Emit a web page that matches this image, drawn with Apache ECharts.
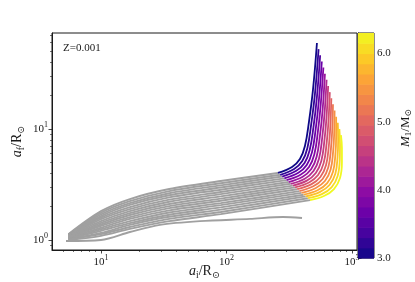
<!DOCTYPE html>
<html><head><meta charset="utf-8">
<script src="https://cdn.jsdelivr.net/npm/echarts@6/dist/echarts.min.js"></script>
<style>html,body{margin:0;padding:0;background:#fff}#c{width:415px;height:282px}</style>
</head><body><div id="c"></div>
<script>
// ---- data ----
const masses = [3.0, 3.22, 3.44, 3.66, 3.88, 4.1, 4.32, 4.54, 4.76, 4.98, 5.2, 5.42, 5.64, 5.86, 6.08, 6.3];
// gray (early) part of each track: shared a_i grid, a_f per track
const grayAi = [5.5, 10, 17, 35, 90];
const grayAf = [
 [1.13, 1.82, 2.34, 2.88, 3.40],
 [1.12, 1.76, 2.24, 2.76, 3.25],
 [1.11, 1.70, 2.15, 2.64, 3.11],
 [1.10, 1.64, 2.07, 2.53, 2.97],
 [1.10, 1.59, 1.98, 2.42, 2.84],
 [1.09, 1.54, 1.90, 2.31, 2.71],
 [1.08, 1.48, 1.82, 2.21, 2.59],
 [1.07, 1.43, 1.75, 2.11, 2.47],
 [1.06, 1.38, 1.68, 2.02, 2.36],
 [1.05, 1.34, 1.61, 1.94, 2.26],
 [1.04, 1.29, 1.55, 1.85, 2.15],
 [1.03, 1.25, 1.48, 1.77, 2.06],
 [1.03, 1.21, 1.42, 1.69, 1.97],
 [1.02, 1.16, 1.37, 1.62, 1.88],
 [1.01, 1.13, 1.31, 1.55, 1.79],
 [1.00, 1.09, 1.26, 1.48, 1.71]
];
// coloured (late) part of each track
const colAi = [
 [257, 333, 385, 422, 454, 489, 526],
 [268, 346, 402, 441, 473, 507, 542],
 [278, 360, 419, 460, 493, 525, 558],
 [289, 374, 436, 480, 513, 544, 575],
 [301, 389, 455, 501, 534, 563, 592],
 [313, 405, 474, 523, 556, 584, 609],
 [325, 421, 494, 546, 579, 605, 628],
 [338, 437, 515, 570, 603, 627, 646],
 [352, 455, 537, 595, 628, 650, 666],
 [366, 473, 560, 621, 654, 673, 685],
 [381, 492, 584, 648, 680, 697, 706],
 [396, 512, 609, 676, 708, 722, 727],
 [412, 532, 635, 706, 738, 748, 748],
 [428, 553, 662, 737, 768, 776, 771],
 [445, 575, 690, 769, 800, 803, 794],
 [463, 598, 719, 803, 832, 832, 817]
];
const colAf = [
 [4.02, 4.55, 5.37, 7.03, 11.56, 22.5, 59.5],
 [3.87, 4.37, 5.15, 6.72, 10.94, 20.7, 52.4],
 [3.73, 4.20, 4.94, 6.43, 10.35, 19.1, 46.2],
 [3.59, 4.03, 4.74, 6.16, 9.80, 17.7, 40.6],
 [3.46, 3.87, 4.55, 5.89, 9.27, 16.3, 35.8],
 [3.33, 3.72, 4.36, 5.63, 8.77, 15.0, 31.5],
 [3.21, 3.57, 4.18, 5.39, 8.30, 13.9, 27.8],
 [3.09, 3.43, 4.02, 5.16, 7.85, 12.8, 24.4],
 [2.98, 3.30, 3.85, 4.93, 7.43, 11.8, 21.5],
 [2.87, 3.17, 3.70, 4.72, 7.03, 10.9, 18.9],
 [2.76, 3.05, 3.55, 4.52, 6.65, 10.1, 16.7],
 [2.66, 2.93, 3.40, 4.32, 6.29, 9.30, 14.7],
 [2.56, 2.81, 3.26, 4.13, 5.95, 8.58, 12.9],
 [2.47, 2.70, 3.13, 3.95, 5.63, 7.92, 11.4],
 [2.38, 2.59, 3.00, 3.78, 5.33, 7.30, 10.0],
 [2.29, 2.49, 2.88, 3.62, 5.04, 6.74, 8.83]
];
// lowest separate gray track
const extraAi = [5.26, 10, 17, 29.5, 61.5, 154, 282, 400];
const extraAf = [0.98, 1.0, 1.18, 1.37, 1.48, 1.55, 1.61, 1.58];
// ticks
const xMajor = [10, 100, 1000];
const xMinor = [5, 6, 7, 8, 9, 20, 30, 40, 50, 60, 70, 80, 90, 200, 300, 400, 500, 600, 700, 800, 900];
const yMajor = [1, 10];
const yMinor = [0.9, 2, 3, 4, 5, 6, 7, 8, 9, 20, 30, 40, 50, 60, 70];
const cbTicks = [3, 4, 5, 6];
const cbEdges = [3.0, 3.15, 3.3, 3.45, 3.6, 3.75, 3.9, 4.05, 4.2, 4.35, 4.5, 4.65, 4.8, 4.95, 5.1, 5.25, 5.4, 5.55, 5.7, 5.85, 6.0, 6.15, 6.3];
const annotation = 'Z=0.001';

// ---- style ----
const X_MIN = 4.07, X_MAX = 1097, Y_MIN = 0.813, Y_MAX = 73.3, M_MIN = 3.0, M_MAX = 6.3;
const FF = '"Liberation Serif","DejaVu Serif",serif';
const INK = '#1a1a1a';
const GRAY = '#a0a0a0';
const PLASMA = ['#0d0887','#41049d','#6a00a8','#8f0da4','#b12a90','#cc4778','#e16462','#f2844b','#fca636','#fcce25','#f0f921'];
function hex(c){return [parseInt(c.slice(1,3),16),parseInt(c.slice(3,5),16),parseInt(c.slice(5,7),16)];}
function plasma(t){
  t = Math.max(0, Math.min(1, t));
  const p = t * (PLASMA.length - 1), i = Math.min(Math.floor(p), PLASMA.length - 2), f = p - i;
  const a = hex(PLASMA[i]), b = hex(PLASMA[i+1]);
  return 'rgb(' + a.map((v,j)=>Math.round(v + (b[j]-v)*f)).join(',') + ')';
}
const richTick = {
  b: {fontFamily: FF, fontSize: 11, color: INK},
  s: {fontFamily: FF, fontSize: 8, color: INK, padding: [0, 0, 8, 0]}
};
const richName = {
  it: {fontFamily: FF, fontSize: 14, fontStyle: 'italic', color: INK},
  n: {fontFamily: FF, fontSize: 14, color: INK},
  sub: {fontFamily: FF, fontSize: 9.5, color: INK, padding: [7, 0, 0, 0]}
};
const powLabel = v => '{b|10}{s|' + Math.round(Math.log10(v)) + '}';

const series = [];
masses.forEach((m, k) => {
  const pts = grayAi.map((a, i) => [a, grayAf[k][i]]);
  pts.push([colAi[k][0], colAf[k][0]]);
  series.push({type: 'line', xAxisIndex: 0, yAxisIndex: 0, data: pts, smooth: 0.3, symbol: 'none',
    lineStyle: {color: GRAY, width: 1.9}, z: 2, silent: true});
});
series.push({type: 'line', xAxisIndex: 0, yAxisIndex: 0, data: extraAi.map((a, i) => [a, extraAf[i]]),
  smooth: 0.3, symbol: 'none', lineStyle: {color: GRAY, width: 1.9}, z: 2, silent: true});
masses.forEach((m, k) => {
  const pts = colAi[k].map((a, i) => [a, colAf[k][i]]);
  series.push({type: 'line', xAxisIndex: 0, yAxisIndex: 0, data: pts, smooth: 0.4, symbol: 'none',
    lineStyle: {color: plasma((m - M_MIN) / (M_MAX - M_MIN)), width: 1.8}, z: 3, silent: true});
});
series.push({type: 'custom', xAxisIndex: 2, yAxisIndex: 2, silent: true,
  data: cbEdges.slice(0, -1).map((lo, i) => [0.5, lo, cbEdges[i+1]]),
  encode: {x: 0, y: [1, 2]},
  renderItem: (p, api) => {
    const lo = api.value(1), hi = api.value(2);
    const a = api.coord([0, hi]), b = api.coord([1, lo]);
    return {type: 'rect', shape: {x: a[0], y: a[1], width: b[0] - a[0], height: b[1] - a[1] + 0.6},
      style: {fill: plasma(((lo + hi) / 2 - M_MIN) / (M_MAX - M_MIN))}};
  }});

const chart = echarts.init(document.getElementById('c'), null, {renderer: 'canvas'});
chart.setOption({
  animation: false,
  backgroundColor: '#fff',
  grid: [
    {left: 52, top: 33, width: 305, height: 217, show: true, borderColor: INK, borderWidth: 1, backgroundColor: 'transparent', containLabel: false, outerBoundsMode: 'none'},
    {left: 358, top: 33, width: 16, height: 225, show: true, borderColor: INK, borderWidth: 1, backgroundColor: 'transparent', containLabel: false, outerBoundsMode: 'none'}
  ],
  xAxis: [
    {type: 'log', logBase: 10, gridIndex: 0, min: X_MIN, max: X_MAX,
     axisLine: {show: true, lineStyle: {color: INK, width: 1}},
     axisTick: {show: true, length: 3.5, customValues: xMajor, lineStyle: {color: INK, width: 0.8}},
     axisLabel: {customValues: xMajor, formatter: powLabel, rich: richTick, margin: 4},
     splitLine: {show: false}, minorTick: {show: false},
     name: '{it|a}{sub|i}{n|/R}{sub|⊙}', nameLocation: 'middle', nameGap: 13, nameMoveOverlap: false,
     nameTextStyle: {rich: richName}},
    {type: 'log', logBase: 10, gridIndex: 0, min: X_MIN, max: X_MAX, position: 'bottom',
     axisLine: {show: false}, axisLabel: {show: false}, splitLine: {show: false},
     axisTick: {show: true, length: 2, customValues: xMinor, lineStyle: {color: INK, width: 0.6}}},
    {type: 'value', gridIndex: 1, min: 0, max: 1, show: false}
  ],
  yAxis: [
    {type: 'log', logBase: 10, gridIndex: 0, min: Y_MIN, max: Y_MAX,
     axisLine: {show: true, lineStyle: {color: INK, width: 1}},
     axisTick: {show: true, length: 3.5, customValues: yMajor, lineStyle: {color: INK, width: 0.8}},
     axisLabel: {customValues: yMajor, formatter: powLabel, rich: richTick, margin: 4},
     splitLine: {show: false},
     name: '{it|a}{sub|f}{n|/R}{sub|⊙}', nameLocation: 'middle', nameGap: 26, nameRotate: 90, nameMoveOverlap: false,
     nameTextStyle: {rich: richName}},
    {type: 'log', logBase: 10, gridIndex: 0, min: Y_MIN, max: Y_MAX, position: 'left',
     axisLine: {show: false}, axisLabel: {show: false}, splitLine: {show: false},
     axisTick: {show: true, length: 2, customValues: yMinor, lineStyle: {color: INK, width: 0.6}}},
    {type: 'value', gridIndex: 1, min: M_MIN, max: M_MAX, position: 'right',
     axisLine: {show: true, lineStyle: {color: INK, width: 1}},
     axisTick: {show: true, length: 3.5, customValues: cbTicks, lineStyle: {color: INK, width: 0.8}},
     axisLabel: {customValues: cbTicks, formatter: v => Number(v).toFixed(1), fontFamily: FF, fontSize: 11, color: INK, margin: 3},
     splitLine: {show: false}}
  ],
  graphic: [
    {type: 'text', left: 63, top: 43, style: {text: annotation, font: '11px ' + FF, fill: INK}},
    {type: 'text', x: 406, y: 128, rotation: Math.PI / 2,
     style: {text: '{it|M}{sub|1}{n|/M}{sub|⊙}', align: 'center', verticalAlign: 'middle', rich: {
       it: {fontFamily: FF, fontSize: 13, fontStyle: 'italic', fill: INK},
       n: {fontFamily: FF, fontSize: 13, fill: INK},
       sub: {fontFamily: FF, fontSize: 9, fill: INK, padding: [6, 0, 0, 0]}}}}
  ],
  series: series
});
</script></body></html>
